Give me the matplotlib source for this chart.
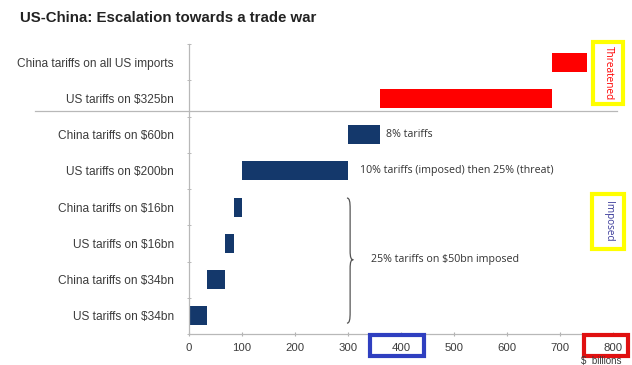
import matplotlib
matplotlib.use('Agg')
import matplotlib.pyplot as plt
from matplotlib.patches import Rectangle, PathPatch
from matplotlib.path import Path
from matplotlib.lines import Line2D
import numpy as np

# Tarifas em ordem cronológica (de baixo para cima), valores em US$ bilhões
labels = ['US tariffs on $34bn', 'China tariffs on $34bn', 'US tariffs on $16bn',
          'China tariffs on $16bn', 'US tariffs on $200bn', 'China tariffs on $60bn',
          'US tariffs on $325bn', 'China tariffs on all US imports']
values = [34, 34, 16, 16, 200, 60, 325, 65]
threatened = [False, False, False, False, False, False, True, True]
xticks = [0, 100, 200, 300, 400, 500, 600, 700, 800]

navy = '#14386b'
red = '#ff0000'

plt.rcParams['font.family'] = ['Liberation Sans', 'DejaVu Sans']

fig = plt.figure(figsize=(6.32, 3.65), dpi=100)
ax = fig.add_axes([189 / 632, 1 - 334 / 365, 424 / 632, 290 / 365])

# Gráfico em cascata: cada barra começa onde a anterior termina
starts = np.concatenate([[0], np.cumsum(values)[:-1]])
y = np.arange(len(labels))
colors = [red if t else navy for t in threatened]
ax.barh(y, values, left=starts, height=0.52, color=colors)

ax.set_xlim(0, 800)
ax.set_ylim(-0.5, len(labels) - 0.5)
ax.set_xticks(xticks)
ax.set_yticks(y)
ax.set_yticklabels(labels)
ax.set_yticks(np.arange(-0.5, len(labels), 1), minor=True)
ax.tick_params(axis='y', which='major', length=0, pad=11, labelsize=8.6, labelcolor='#3c3c3c')
ax.tick_params(axis='y', which='minor', length=3, direction='inout', color='#b0b0b0')
ax.tick_params(axis='x', length=3, direction='inout', color='#b0b0b0', labelsize=8.2,
               labelcolor='#3c3c3c', pad=5)

for s in ['top', 'right']:
    ax.spines[s].set_visible(False)
for s in ['left', 'bottom']:
    ax.spines[s].set_color('#b8b8b8')
    ax.spines[s].set_linewidth(0.9)

# Linha separando tarifas ameaçadas das impostas
fig.add_artist(Line2D([35 / 632, 617 / 632], [1 - 111 / 365, 1 - 111 / 365],
                      color='#b8b8b8', lw=0.9))

# Anotações
note_font = dict(family=['Open Sans', 'DejaVu Sans'], fontsize=7.7, color='#333333', va='center')
ax.text(starts[5] + values[5] + 12, 5, '8% tariffs', **note_font)
ax.text(starts[4] + values[4] + 22, 4, '10% tariffs (imposed) then 25% (threat)', **note_font)
ax.text(343, 1.55, '25% tariffs on $50bn imposed', **note_font)

# Chave agrupando as quatro primeiras tarifas
bx, top, bot, mid = 298, 3.25, -0.2, 1.55
verts = [(bx, top), (bx + 5, top), (bx + 6, top - 0.1), (bx + 6, top - 0.3),
         (bx + 6, mid + 0.25),
         (bx + 6, mid + 0.05), (bx + 8, mid), (bx + 12, mid),
         (bx + 8, mid), (bx + 6, mid - 0.05), (bx + 6, mid - 0.25),
         (bx + 6, bot + 0.3),
         (bx + 6, bot + 0.1), (bx + 5, bot), (bx, bot)]
codes = [Path.MOVETO, Path.CURVE4, Path.CURVE4, Path.CURVE4, Path.LINETO,
         Path.CURVE4, Path.CURVE4, Path.CURVE4,
         Path.CURVE4, Path.CURVE4, Path.CURVE4, Path.LINETO,
         Path.CURVE4, Path.CURVE4, Path.CURVE4]
ax.add_patch(PathPatch(Path(verts, codes), fill=False, ec='#555555', lw=0.9))

# Título e rótulo do eixo
fig.text(20 / 632, 1 - 18 / 365, 'US-China: Escalation towards a trade war',
         fontsize=10.8, fontweight='bold', color='#222222', va='center')
fig.text(601 / 632, 1 - 361 / 365, '$  billions', fontsize=7.0, color='#3c3c3c',
         ha='center', va='center')

# Caixas de destaque
def box(x0, y0, x1, y1, color, lw):
    fig.add_artist(Rectangle((x0 / 632, 1 - y1 / 365), (x1 - x0) / 632, (y1 - y0) / 365,
                             fill=False, ec=color, lw=lw, transform=fig.transFigure))

box(593, 42, 623, 104, '#ffff00', 3)
box(592, 194, 624, 249, '#ffff00', 3)
box(370, 335, 424, 356, '#2f3fc0', 3)
box(584, 335, 628, 356, '#e01010', 3)

fig.text(608 / 632, 1 - 73 / 365, 'Threatened', rotation=-90, fontsize=7.2, color=red,
         ha='center', va='center', family=['Open Sans', 'DejaVu Sans'])
fig.text(608 / 632, 1 - 221 / 365, 'Imposed', rotation=-90, fontsize=7.2, color='#3b3b9a',
         ha='center', va='center', family=['Open Sans', 'DejaVu Sans'])

fig.savefig('out.png', dpi=100)
